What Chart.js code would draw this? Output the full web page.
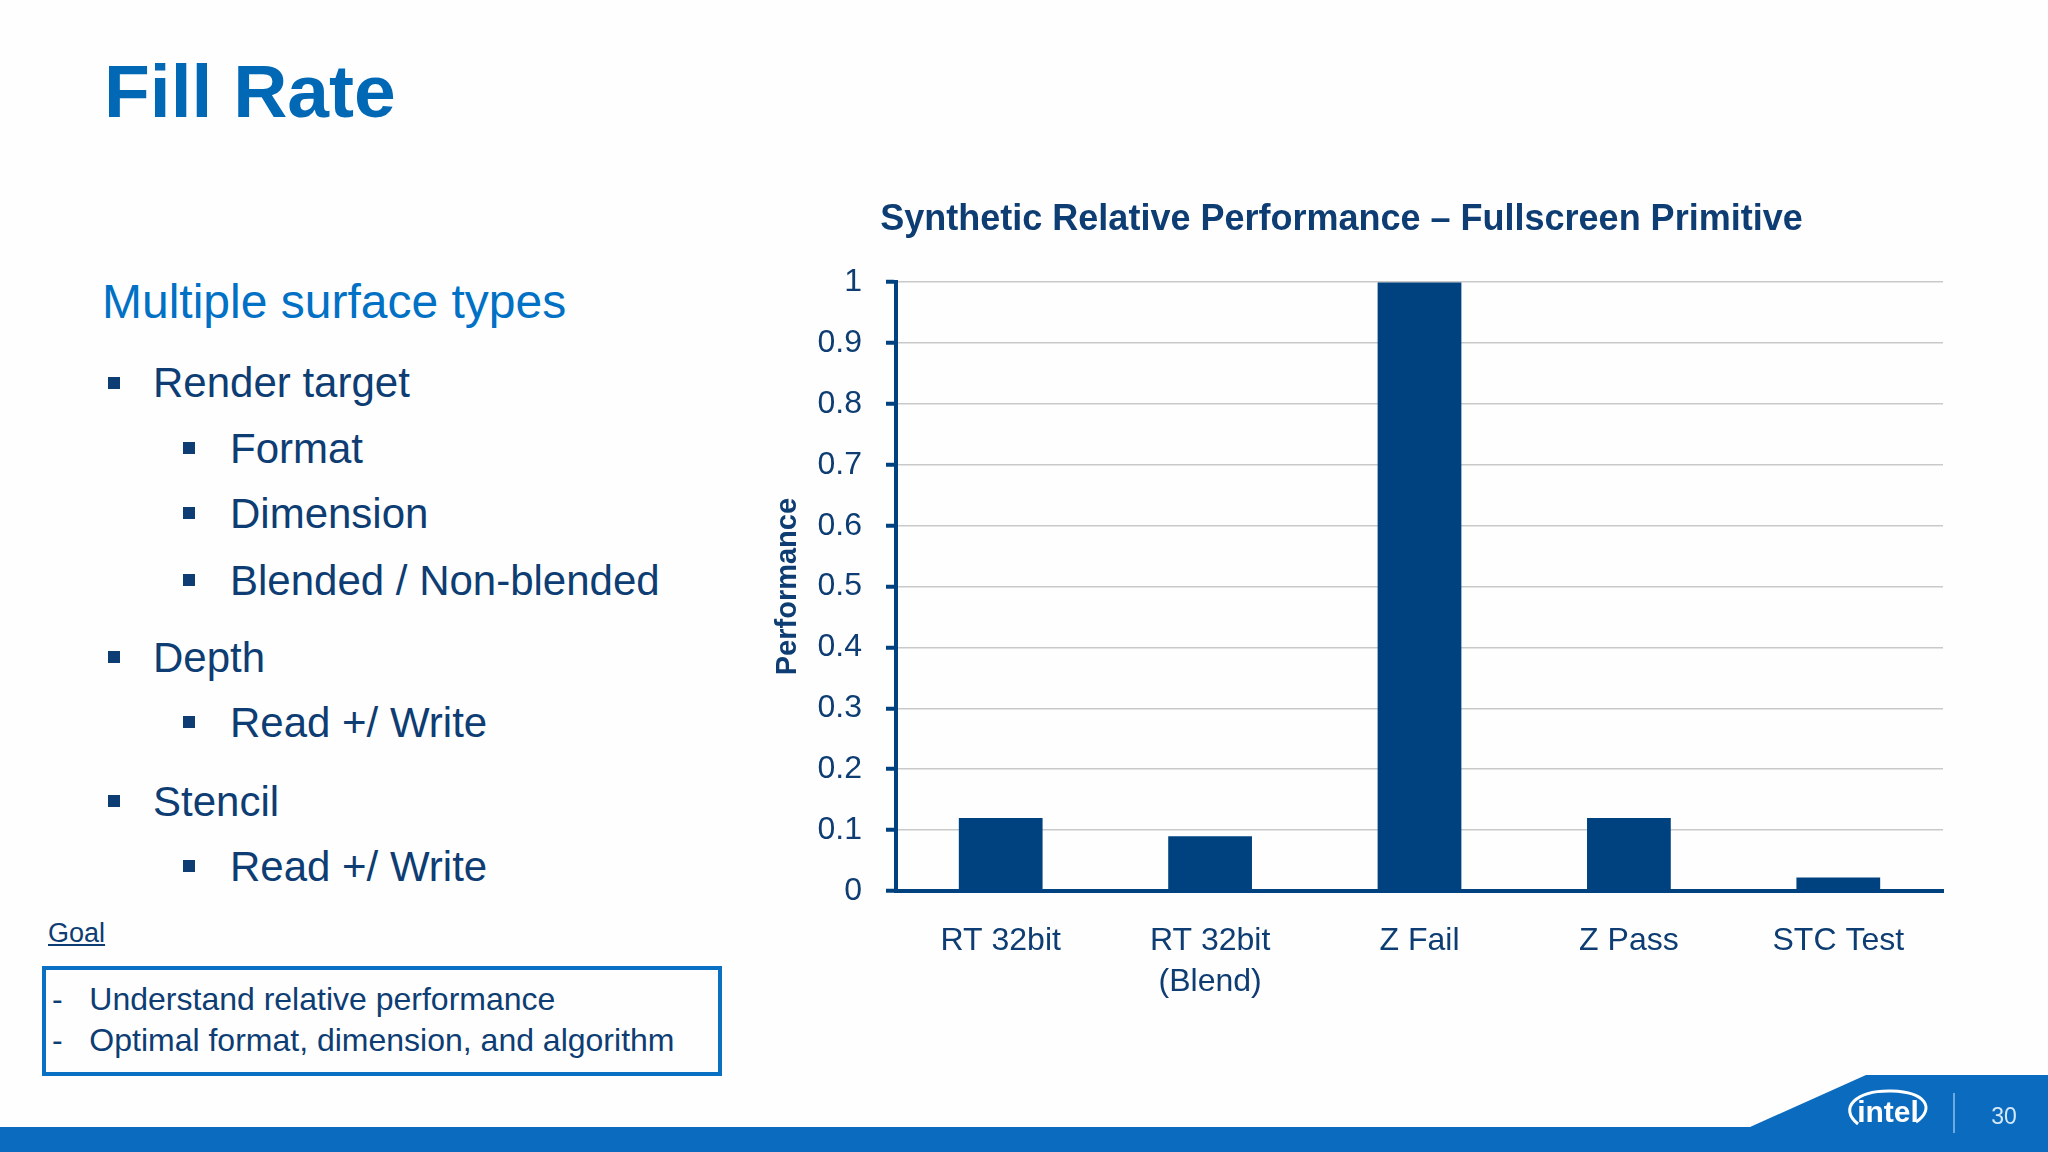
<!DOCTYPE html>
<html>
<head>
<meta charset="utf-8">
<script src="https://cdn.jsdelivr.net/npm/chart.js@4.4.1/dist/chart.umd.min.js"></script>
<style>
    body { margin: 0; width: 2048px; height: 1152px; background: #fefefe; position: relative; overflow: hidden; font-family: 'Liberation Sans', Arial, sans-serif; }
    .abs { position: absolute; white-space: nowrap; }
    .slideTitle { left: 104px; top: 48px; font-size: 75px; font-weight: bold; color: #0068b5; }
    .sub { left: 102px; top: 274px; font-size: 48px; color: #0071c5; }
    .item { font-size: 42px; color: #0d3d73; line-height: 50px; }
    .bullet { width: 12px; height: 12px; background: #0d3d73; }
    .goal { left: 48px; top: 918px; font-size: 27px; color: #0d3d73; text-decoration: underline; }
    .goalBox { left: 42px; top: 966px; width: 672px; height: 102px; border: 4px solid #0a70c4; }
    .goalLine { font-size: 32px; color: #0d3d73; left: 52px; }
    #chartWrap { position: absolute; left: 740px; top: 172px; width: 1240px; height: 840px; }
</style>
</head>
<body>
<div class="abs slideTitle">Fill Rate</div>
<div class="abs sub">Multiple surface types</div>

<div class="abs bullet" style="left:108px; top:377px"></div>
<div class="abs item" style="left:153px; top:358px">Render target</div>
<div class="abs bullet" style="left:183px; top:442px"></div>
<div class="abs item" style="left:230px; top:424px">Format</div>
<div class="abs bullet" style="left:183px; top:507px"></div>
<div class="abs item" style="left:230px; top:489px">Dimension</div>
<div class="abs bullet" style="left:183px; top:574px"></div>
<div class="abs item" style="left:230px; top:556px">Blended / Non-blended</div>
<div class="abs bullet" style="left:108px; top:651px"></div>
<div class="abs item" style="left:153px; top:633px">Depth</div>
<div class="abs bullet" style="left:183px; top:716px"></div>
<div class="abs item" style="left:230px; top:698px">Read +/ Write</div>
<div class="abs bullet" style="left:108px; top:795px"></div>
<div class="abs item" style="left:153px; top:777px">Stencil</div>
<div class="abs bullet" style="left:183px; top:860px"></div>
<div class="abs item" style="left:230px; top:842px">Read +/ Write</div>

<div class="abs goal">Goal</div>
<div class="abs goalBox"></div>
<div class="abs goalLine" style="top:981px">-&nbsp;&nbsp;&nbsp;Understand relative performance</div>
<div class="abs goalLine" style="top:1022px">-&nbsp;&nbsp;&nbsp;Optimal format, dimension, and algorithm</div>

<div id="chartWrap"><canvas id="fillRate" width="1240" height="840"></canvas></div>

<svg class="abs" style="left:0; top:0" width="2048" height="1152">
    <polygon points="0,1127 1750,1127 1866,1075 2048,1075 2048,1152 0,1152" fill="#0b6cbf"/>
    <path d="M1858,1124 C1838,1108 1856,1090 1892,1091 C1925,1092 1936,1108 1916,1122" fill="none" stroke="#ffffff" stroke-width="3"/>
    <text x="1888" y="1122" text-anchor="middle" fill="#ffffff" font-family="Liberation Sans" font-size="30" font-weight="bold">intel</text>
    <line x1="1954" y1="1093" x2="1954" y2="1133" stroke="#8fc0ea" stroke-width="1.5"/>
    <text x="2004" y="1124" text-anchor="middle" fill="#d7e9f8" font-family="Liberation Sans" font-size="23">30</text>
</svg>

<script>
// chart data
const categories = ['RT 32bit', ['RT 32bit', '(Blend)'], 'Z Fail', 'Z Pass', 'STC Test'];
const performance = [0.12, 0.09, 1.0, 0.12, 0.022];
const yMin = 0;
const yMax = 1;
const yStep = 0.1;

const navy = '#0d3d73';
const barColor = '#00427f';

const ctx = document.getElementById('fillRate').getContext('2d');
new Chart(ctx, {
    type: 'bar',
    data: {
        labels: categories,
        datasets: [{
            label: 'Performance',
            data: performance,
            backgroundColor: barColor,
            borderWidth: 0,
            categoryPercentage: 0.8,
            barPercentage: 0.5
        }]
    },
    options: {
        responsive: false,
        animation: false,
        layout: {
            padding: { left: 0, right: 37, top: 0, bottom: 0 }
        },
        plugins: {
            legend: { display: false },
            tooltip: { enabled: false },
            title: {
                display: true,
                text: 'Synthetic Relative Performance \u2013 Fullscreen Primitive',
                color: '#0d3d73',
                font: { family: "'Liberation Sans'", size: 36, weight: 'bold', lineHeight: 1.2 },
                padding: { top: 26, bottom: 41 }
            }
        },
        scales: {
            x: {
                afterFit: function(scale) { scale.height = 121; },
                grid: { display: false, drawTicks: false },
                border: { display: true, color: barColor, width: 4 },
                ticks: {
                    color: navy,
                    padding: 29,
                    maxRotation: 0,
                    font: { family: "'Liberation Sans'", size: 32, lineHeight: 1.3 }
                }
            },
            y: {
                min: yMin,
                max: yMax,
                afterFit: function(scale) { scale.width = 156; },
                grid: {
                    color: '#c9c9c9',
                    lineWidth: 1.5,
                    tickColor: barColor,
                    tickWidth: 4,
                    tickLength: 10
                },
                border: { display: true, color: barColor, width: 4 },
                ticks: {
                    stepSize: yStep,
                    color: navy,
                    padding: 24,
                    font: { family: "'Liberation Sans'", size: 32 },
                    callback: function(value) { return String(Number(value.toFixed(1))); }
                },
                title: {
                    display: true,
                    text: 'Performance',
                    color: navy,
                    padding: { top: 31, bottom: 0 },
                    font: { family: "'Liberation Sans'", size: 29, weight: 'bold', lineHeight: 1.2 }
                }
            }
        }
    }
});
</script>
</body>
</html>
